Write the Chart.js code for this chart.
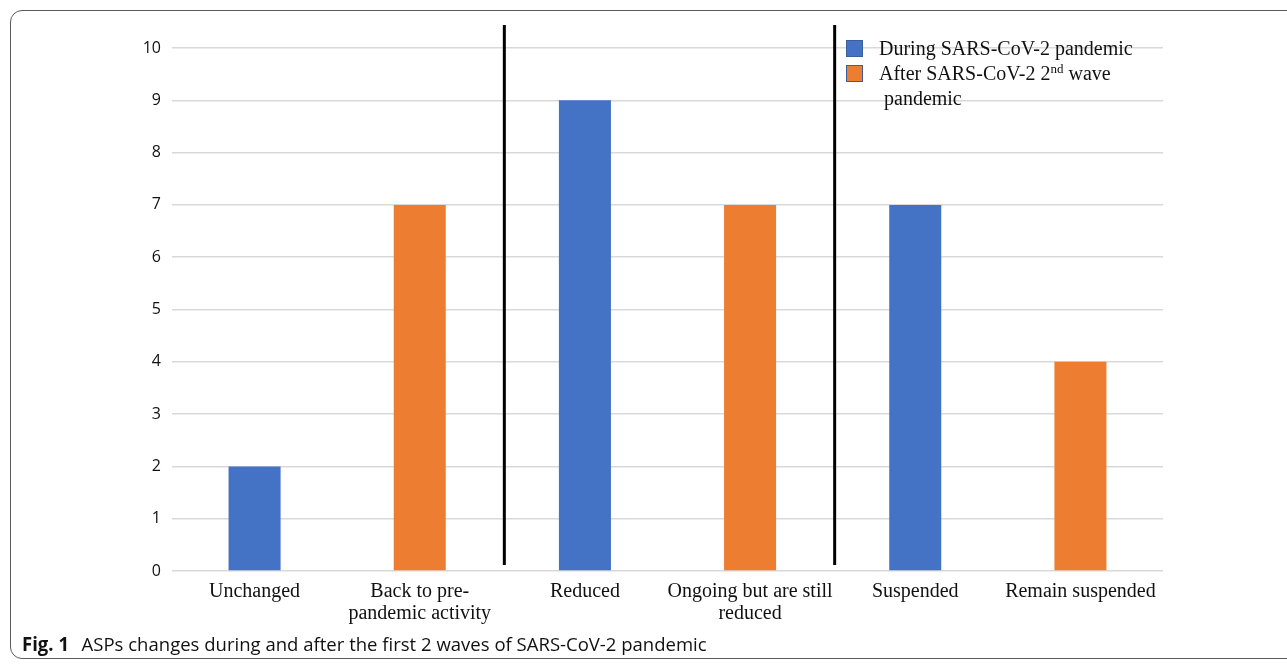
<!DOCTYPE html>
<html>
<head>
<meta charset="utf-8">
<script src="https://cdn.jsdelivr.net/npm/chart.js@4"></script>
<style>
    body { margin: 0; background: #fff; overflow: hidden; }
    #wrap { position: relative; width: 1287px; height: 665px; }
    #frame {
        position: absolute; left: 10px; top: 10px; width: 1300px; height: 649px;
        border: 1.5px solid #5a5a5a; border-radius: 12px; box-sizing: border-box;
    }
    #chartCanvas { position: absolute; left: 0; top: 0; }
    #legend {
        position: absolute; left: 846px; top: 36px;
        font-family: "Liberation Serif", "Times New Roman", serif; font-size: 20px; color: #111;
    }
    .item { display: flex; align-items: flex-start; line-height: 25px; }
    .box { width: 17px; height: 17px; margin: 4px 16px 0 0; border: 1px solid #3b5f9a; box-sizing: border-box; flex: none; }
    sup { font-size: 13px; line-height: 0; vertical-align: 7px; }
    #caption {
        position: absolute; left: 22px; top: 631px; white-space: nowrap;
        font-family: "Open Sans", sans-serif; font-size: 19px; color: #111;
        transform: scaleX(0.975); transform-origin: left top;
    }
    #caption b { margin-right: 8px; }
</style>
</head>
<body>
<div id="wrap">
    <div id="frame"></div>
    <canvas id="chartCanvas" width="1287" height="665"></canvas>
    <div id="legend"></div>
    <div id="caption"><b>Fig. 1</b> ASPs changes during and after the first 2 waves of SARS-CoV-2 pandemic</div>
</div>
<script>
const categories = [
    'Unchanged',
    ['Back to pre-', 'pandemic activity'],
    'Reduced',
    ['Ongoing but are still', 'reduced'],
    'Suspended',
    'Remain suspended'
];
const duringValues = [2, null, 9, null, 7, null];
const afterValues = [null, 7, null, 7, null, 4];
const seriesLabels = ['During SARS-CoV-2 pandemic', 'After SARS-CoV-2 2nd wave pandemic'];
const seriesColors = ['#4472c4', '#ed7d31'];
const yTicks = [0, 1, 2, 3, 4, 5, 6, 7, 8, 9, 10];

// black separators between the three groups of categories
const separatorPlugin = {
    id: 'separators',
    afterDatasetsDraw(chart) {
        const ctx = chart.ctx;
        const x = chart.scales.x;
        const area = chart.chartArea;
        ctx.save();
        ctx.strokeStyle = '#000';
        ctx.lineWidth = 3;
        [1, 3].forEach(i => {
            const px = (x.getPixelForValue(i) + x.getPixelForValue(i + 1)) / 2 + 2;
            ctx.beginPath();
            ctx.moveTo(px, area.top - 23);
            ctx.lineTo(px, area.bottom - 6);
            ctx.stroke();
        });
        ctx.restore();
    }
};

const chart = new Chart(document.getElementById('chartCanvas').getContext('2d'), {
    type: 'bar',
    data: {
        labels: categories,
        datasets: [
            { label: seriesLabels[0], data: duringValues, backgroundColor: seriesColors[0] },
            { label: seriesLabels[1], data: afterValues, backgroundColor: seriesColors[1] }
        ]
    },
    options: {
        responsive: false,
        animation: false,
        skipNull: true,
        categoryPercentage: 1,
        barPercentage: 0.315,
        layout: { padding: { left: 0, top: 48, right: 124, bottom: 0 } },
        plugins: {
            legend: { display: false },
            tooltip: { enabled: false }
        },
        scales: {
            x: {
                grid: { display: false },
                border: { display: false },
                ticks: {
                    padding: 2,
                    color: '#111',
                    font: { family: '"Liberation Serif", "Times New Roman", serif', size: 20, lineHeight: 1.1 },
                    maxRotation: 0,
                    autoSkip: false
                },
                afterFit(scale) { scale.height = 94; }
            },
            y: {
                min: 0,
                max: 10,
                afterBuildTicks(scale) { scale.ticks = yTicks.map(v => ({ value: v })); },
                grid: { color: '#d9d9d9', lineWidth: 1.5, drawTicks: false },
                border: { display: false },
                ticks: {
                    padding: 11,
                    color: '#111',
                    font: { family: '"Open Sans", sans-serif', size: 16 }
                },
                afterFit(scale) { scale.width = 172; }
            }
        }
    },
    plugins: [separatorPlugin]
});

// legend as html so the superscript can be shown
const legend = document.getElementById('legend');
legend.innerHTML =
    '<div class="item"><span class="box" style="background:' + seriesColors[0] + '"></span><span>' + seriesLabels[0] + '</span></div>' +
    '<div class="item"><span class="box" style="background:' + seriesColors[1] + '"></span><span>After SARS-CoV-2 2<sup>nd</sup> wave<br>&nbsp;pandemic</span></div>';
</script>
</body>
</html>
